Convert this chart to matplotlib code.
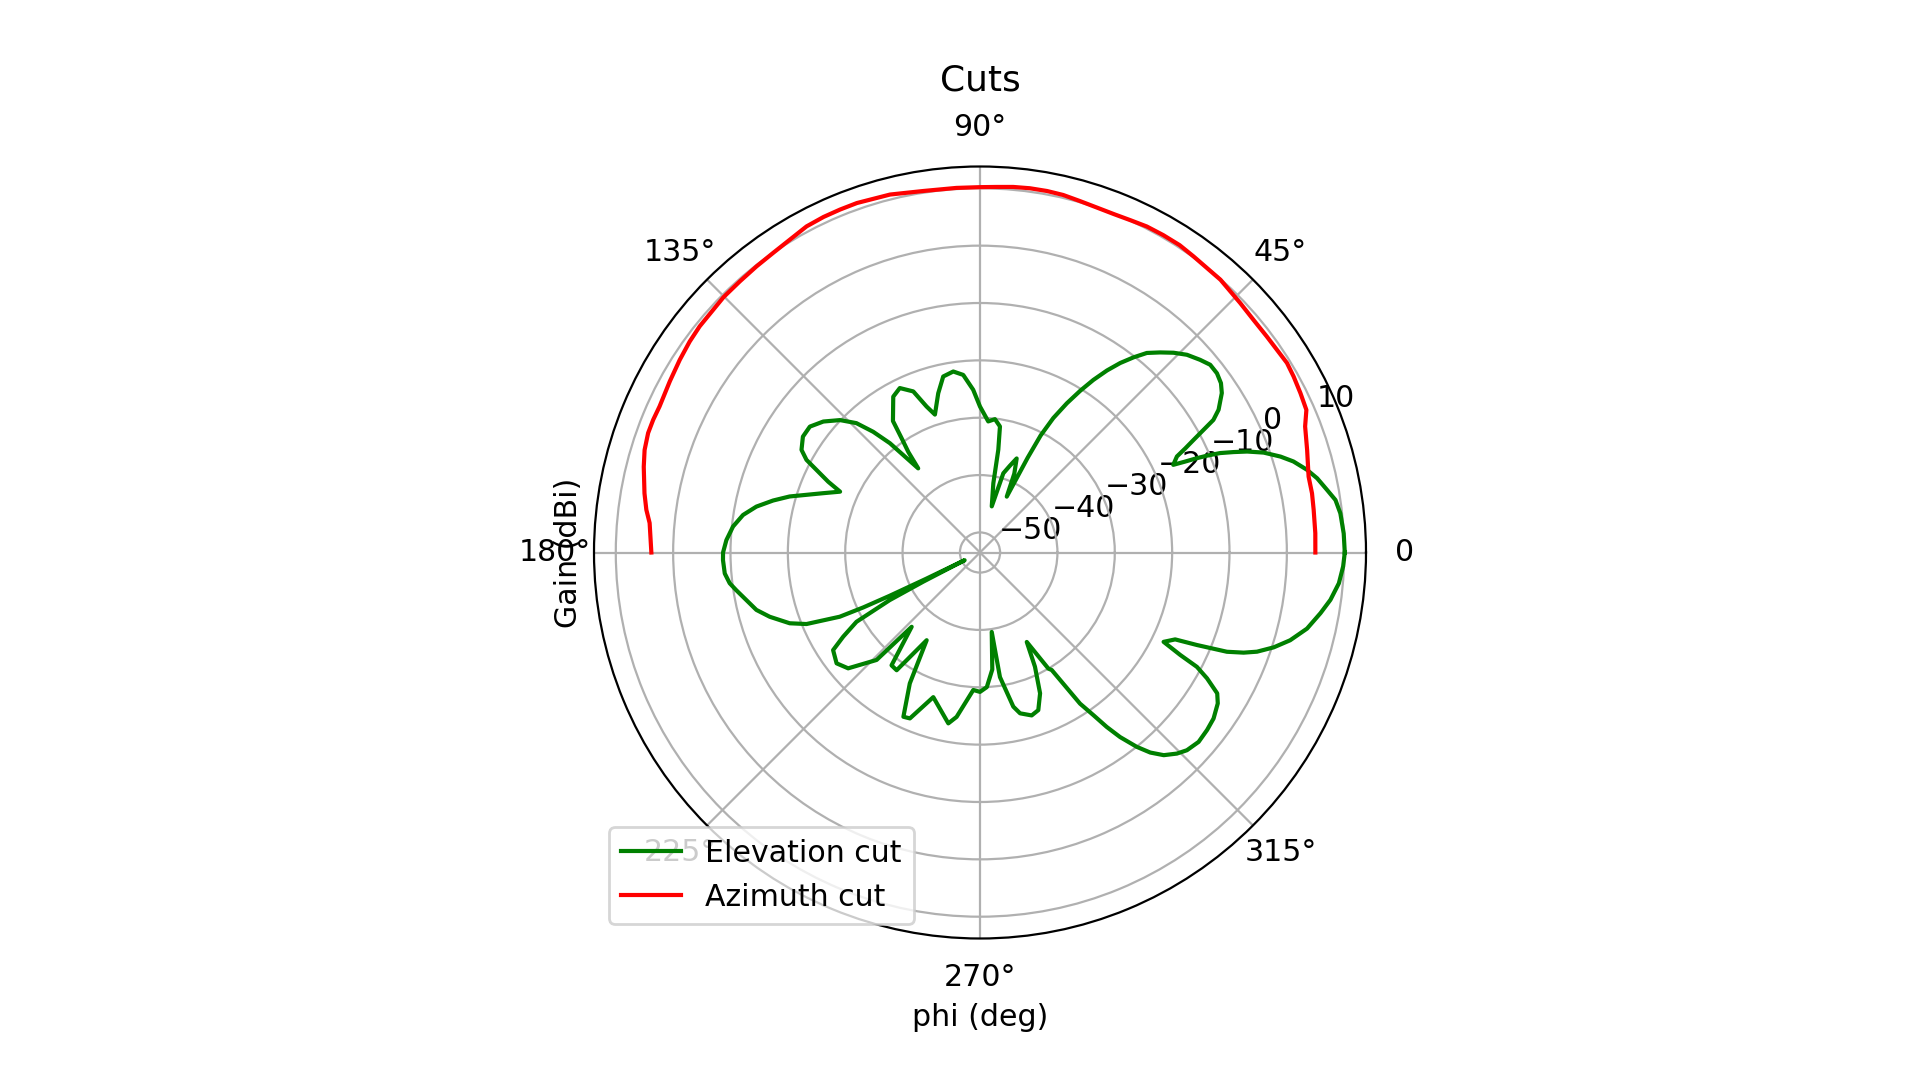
import numpy as np
import matplotlib
matplotlib.use("Agg")
import matplotlib.pyplot as plt

# Elevation cut (green): angle in degrees, gain in dBi
elev_theta_deg = [0, 3.0, 6.2, 8.4, 10.2, 12.4, 14.2, 16.2, 17.7, 19.4, 20.7, 21.6, 22.5, 23.1,
                  23.5, 23.9, 24.4, 26.0, 26.9, 27.8, 28.75, 29.6, 30.9, 33.4, 35.1, 37.1,
                  39.2, 41.2, 43.7, 45.9, 48.0, 50.1, 51.8, 53.5, 55.1, 56.7, 58.2, 59.8,
                  61.4, 62.6, 63.3, 64.4, 66.5, 68.7, 71.0, 73.6, 75.7, 79.1, 79.9, 81.0,
                  83.6, 86.4, 90.0, 92.4, 95.4, 98.4, 101.8, 104.7, 108.1, 110.1, 112.5,
                  116.0, 119.1, 123.5, 124.5, 125.5, 126.3, 129.5, 131.5, 133.7, 136.6,
                  140.1, 143.5, 146.8, 150.1, 151.9, 153.2, 155.0, 156.5, 159.3, 163.6,
                  165.9, 168.4, 171.0, 174.0, 177.2, 180.0, 181.7, 184.7, 187.0, 188.8,
                  191.5, 194.4, 197.0, 200.4, 202.4, 204.6, 205.2, 205.6, 206.0, 206.6,
                  207.2, 207.8, 209.3, 211.6, 213.6, 217.7, 221.3, 226.1, 227.4, 231.9,
                  234.7, 238.7, 241.8, 245.0, 247.1, 252.1, 259.5, 261.9, 267.2, 270.0,
                  272.9, 276.0, 278.4, 279.1, 282.2, 284.0, 287.6, 290.3, 293.1, 295.7,
                  297.6, 300.5, 301.4, 303.5, 304.9, 306.0, 307.2, 308.9, 310.4, 312.2,
                  314.4, 316.3, 319.1, 322.0, 324.6, 327.6, 329.3, 331.0, 332.2, 332.9,
                  334.05, 336.0, 336.9, 338.1, 339.2, 340.3, 342.1, 344.2, 346.9, 349.9,
                  352.3, 355.1, 357.8, 360.0]
elev_gain_db = [10.1, 10.0, 9.7, 9.15, 8.0, 6.7, 5.3, 3.4, 1.5, -1.06, -3.7, -5.93, -8.2, -10.47,
                -12.25, -14.36, -16.5, -15.3, -13.35, -11.4, -9.04, -6.7, -5.02, -3.0, -2.15, -1.7,
                -1.71, -2.5, -3.6, -5.0, -6.56, -8.15, -10.2, -12.4, -14.8, -17.5, -20.3, -23.4,
                -26.8, -30.5, -35.0, -42.7, -38.5, -35.9, -37.5, -39.1, -45.2, -41.2, -35.3, -31.25,
                -30.1, -30.6, -28.05, -25.1, -22.4, -21.6, -22.15, -24.8, -28.2, -26.4, -23.1,
                -21.6, -22.4, -26.0, -29.5, -32.0, -35.3, -28.8, -25.4, -22.3, -19.9,
                -17.9, -16.6, -16.6, -17.6, -19.2, -21.55, -24.3, -26.9, -24.25, -18.9,
                -16.3, -13.7, -11.67, -10.2, -9.23, -8.7, -8.67, -8.85, -9.53, -10.5,
                -11.93, -13.25, -15.17, -18.1, -20.77, -26.6, -31.0, -36.0, -43.0, -50.5,
                -42.4, -35.7, -28.8, -25.5, -22.75, -21.9, -22.9, -27.5, -35.9, -28.5,
                -28.35, -35.6, -27.6, -21.9, -22.1, -27.0, -23.2, -24.55, -29.5, -29.2,
                -30.0, -33.0, -39.5, -31.5, -26.0, -24.6, -23.7, -24.2, -26.8, -31.4,
                -35.9, -30.0, -29.5, -21.9, -18.9, -15.9, -13.1, -9.95, -7.7, -5.8,
                -4.43, -3.6, -3.07, -3.25, -3.54, -4.4, -5.4, -8.24, -10.75, -14.27,
                -17.9, -16.25, -12.4, -7.1, -4.33, -2.2, 0.31, 2.7, 5.04, 6.8,
                8.15, 9.3, 9.86, 10.1]

# Azimuth cut (red): angle in degrees, gain in dBi
azim_theta_deg = [0, 3.3, 7.3, 10.1, 13.0, 17.4, 21.2, 23.6, 26.45, 29.3, 31.7, 37.0, 40.4,
                  43.8, 48.6, 54.2, 57.0, 60.0, 62.9, 65.6, 68.4, 71.3, 74.1, 76.9, 79.5,
                  82.2, 84.8, 87.4, 90.0, 93.7, 98.9, 104.1, 109.4, 112.2, 115.0, 118.0,
                  121.3, 124.6, 128.0, 131.5, 135.1, 141.1, 144.0, 147.3, 151.1, 155.5,
                  157.9, 160.2, 163.0, 165.7, 170.0, 172.7, 174.9, 180.0]
azim_gain_db = [4.97, 5.06, 5.15, 5.3, 5.3, 6.27, 7.3, 8.6, 8.9, 9.2, 9.4, 9.1, 9.1,
                9.35, 9.9, 10.15, 10.4, 10.4, 10.35, 10.1, 9.95, 10.0, 10.2, 10.5, 10.6,
                10.6, 10.5, 10.3, 10.2, 10.2, 10.3, 10.85, 11.1, 11.08, 11.05, 10.9,
                10.33, 9.98, 9.8, 9.65, 9.6, 9.3, 9.07, 8.7, 8.27, 7.9,
                8.0, 8.0, 7.65, 7.0, 5.9, 5.15, 4.33, 3.8]

theta_tick_deg = [0, 45, 90, 135, 180, 225, 270, 315]
theta_tick_labels = ["0", "45°", "90°", "135°", "180°", "225°", "270°", "315°"]

title_text = "Cuts"
xlabel_text = "phi (deg)"
ylabel_text = "Gain (dBi)"
legend_labels = ["Elevation cut", "Azimuth cut"]

plt.rcParams['font.family'] = ['DejaVu Sans']
plt.rcParams['font.size'] = 10.8

fig = plt.figure(figsize=(9.6, 5.4), dpi=200)
ax = fig.add_axes([594 / 1920, (1080 - 938.5) / 1080, 772 / 1920, 772 / 1080],
                  projection='polar')

ax.plot(np.deg2rad(elev_theta_deg), elev_gain_db, color='green', label=legend_labels[0])
ax.plot(np.deg2rad(azim_theta_deg), azim_gain_db, color='red', label=legend_labels[1])

ax.set_ylim(-53.5, 13.8)
ax.set_thetagrids(theta_tick_deg, theta_tick_labels)
ax.set_title(title_text, pad=8)
ax.set_xlabel(xlabel_text)
ax.set_ylabel(ylabel_text)
ax.legend(loc='lower left')

fig.savefig("out.png", dpi=200)
